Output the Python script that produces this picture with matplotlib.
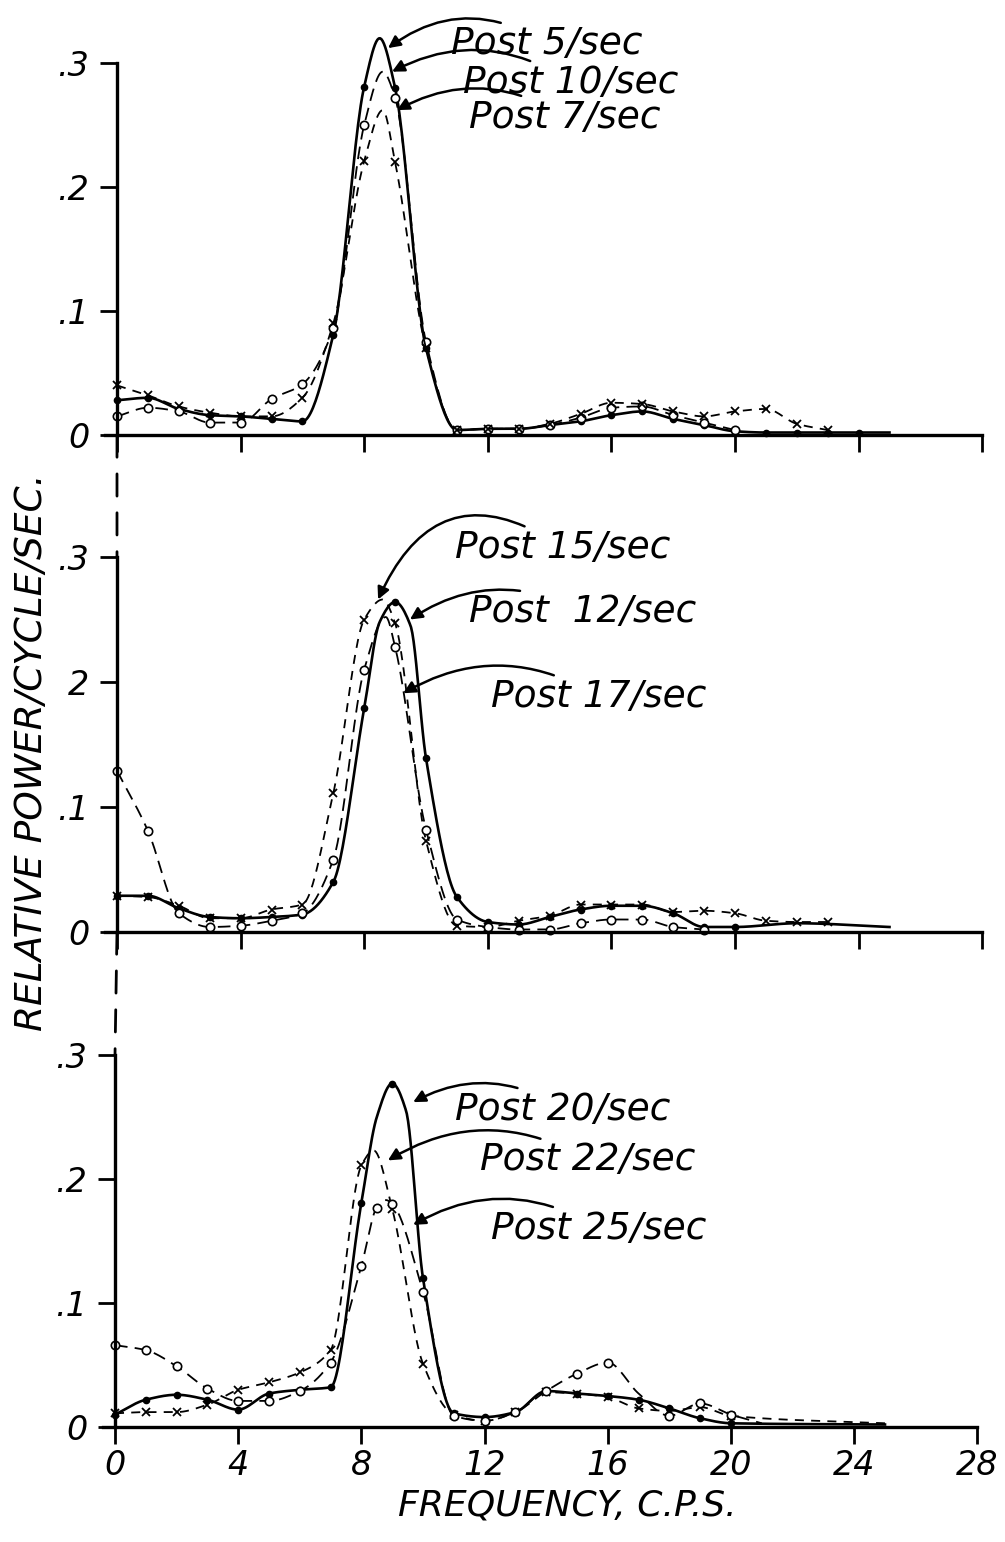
import numpy as np
import matplotlib
matplotlib.use("Agg")
import matplotlib.pyplot as plt
from matplotlib.patches import ConnectionPatch

# ---- data (relative power per cycle/sec vs frequency, c.p.s.)
# top panel
f5 = list(range(0, 25))
p5 = [0.028, 0.030, 0.021, 0.016, 0.015, 0.013, 0.011, 0.081, 0.281, 0.280, 0.070, 0.004, 0.005,
      0.005, 0.008, 0.011, 0.016, 0.019, 0.013, 0.008, 0.003, 0.002, 0.002, 0.002, 0.002]
f5_curve, p5_curve = [8.5, 25], [0.320, 0.002]

f10 = list(range(0, 21))
p10 = [0.015, 0.022, 0.019, 0.010, 0.010, 0.029, 0.041, 0.086, 0.250, 0.272, 0.075, 0.004, 0.005,
       0.005, 0.008, 0.014, 0.022, 0.023, 0.016, 0.010, 0.004]
f10_curve, p10_curve = [8.6], [0.293]

f7 = list(range(0, 24))
p7 = [0.040, 0.032, 0.023, 0.018, 0.015, 0.015, 0.030, 0.090, 0.221, 0.220, 0.070, 0.004, 0.005,
      0.005, 0.009, 0.017, 0.026, 0.025, 0.019, 0.015, 0.019, 0.021, 0.009, 0.004]
f7_curve, p7_curve = [8.6], [0.262]

# middle panel
f12 = list(range(0, 21))
p12 = [0.029, 0.029, 0.019, 0.012, 0.011, 0.012, 0.014, 0.040, 0.179, 0.264, 0.139, 0.028, 0.008,
       0.006, 0.012, 0.018, 0.021, 0.021, 0.015, 0.004, 0.004]
f12_curve, p12_curve = [8.5, 9.5, 22, 25], [0.248, 0.245, 0.007, 0.004]

f15 = list(range(0, 24))
p15 = [0.029, 0.028, 0.021, 0.011, 0.011, 0.018, 0.022, 0.111, 0.250, 0.247, 0.073, 0.005, 0.004,
       0.009, 0.013, 0.022, 0.022, 0.022, 0.016, 0.017, 0.015, 0.009, 0.008, 0.008]
f15_curve, p15_curve = [8.6], [0.266]

f17 = list(range(0, 20))
p17 = [0.129, 0.081, 0.015, 0.004, 0.005, 0.009, 0.015, 0.058, 0.210, 0.228, 0.082, 0.010, 0.004,
       0.002, 0.002, 0.007, 0.010, 0.010, 0.004, 0.002]
f17_curve, p17_curve = [8.7], [0.252]

# bottom panel
f20 = list(range(0, 21))
p20 = [0.010, 0.022, 0.026, 0.022, 0.014, 0.027, 0.030, 0.032, 0.181, 0.277, 0.120, 0.011, 0.008,
       0.012, 0.029, 0.027, 0.025, 0.022, 0.015, 0.007, 0.003]
f20_curve, p20_curve = [8.5, 9.45, 25], [0.250, 0.255, 0.002]

f22 = list(range(0, 21))
p22 = [0.011, 0.012, 0.012, 0.018, 0.030, 0.036, 0.044, 0.062, 0.211, 0.176, 0.051, 0.010, 0.005,
       0.012, 0.028, 0.027, 0.024, 0.015, 0.013, 0.016, 0.009]
f22_curve, p22_curve = [8.4, 25], [0.223, 0.003]

f25 = [0, 1, 2, 3, 4, 5, 6, 7, 8, 8.5, 9, 10, 11, 12, 13, 14, 15, 16, 18, 19, 20]
p25 = [0.066, 0.062, 0.049, 0.031, 0.021, 0.021, 0.029, 0.052, 0.130, 0.177, 0.180, 0.109, 0.009,
       0.005, 0.012, 0.029, 0.043, 0.052, 0.009, 0.019, 0.010]
f25_curve, p25_curve = [8.8, 17, 21], [0.183, 0.027, 0.003]

x_ticks = [0, 4, 8, 12, 16, 20, 24, 28]
y_ticks = [0, 0.1, 0.2, 0.3]
y_labels = ['0', '.1', '.2', '.3']
y_labels_mid = ['0', '.1', '2', '.3']


def pchip(x, y, xs):
    x = np.asarray(x, float)
    y = np.asarray(y, float)
    h = np.diff(x)
    d = np.diff(y) / h
    n = len(x)
    m = np.zeros(n)
    m[0], m[-1] = d[0], d[-1]
    for k in range(1, n - 1):
        if d[k - 1] * d[k] > 0:
            w1 = 2 * h[k] + h[k - 1]
            w2 = h[k] + 2 * h[k - 1]
            m[k] = (w1 + w2) / (w1 / d[k - 1] + w2 / d[k])
    i = np.clip(np.searchsorted(x, xs) - 1, 0, n - 2)
    t = (xs - x[i]) / h[i]
    h00 = 2 * t**3 - 3 * t**2 + 1
    h10 = t**3 - 2 * t**2 + t
    h01 = -2 * t**3 + 3 * t**2
    h11 = t**3 - t**2
    return h00 * y[i] + h10 * h[i] * m[i] + h01 * y[i + 1] + h11 * h[i] * m[i + 1]


def draw(ax, f, p, fc, pc, kind):
    pts = sorted(zip(list(f) + list(fc), list(p) + list(pc)))
    cx = [a for a, b in pts]
    cy = [b for a, b in pts]
    xs = np.linspace(cx[0], cx[-1], 600)
    ys = pchip(cx, cy, xs)
    if kind == 'dot':
        ax.plot(xs, ys, color='k', lw=1.9)
        ax.plot(f, p, 'o', color='k', ms=4.5)
    elif kind == 'circ':
        ax.plot(xs, ys, color='k', lw=1.3, ls=(0, (7, 4)))
        ax.plot(f, p, 'o', mfc='white', mec='k', ms=6, mew=1.2)
    else:
        ax.plot(xs, ys, color='k', lw=1.3, ls=(0, (5, 4)))
        ax.plot(f, p, 'x', color='k', ms=6, mew=1.3)


W, H = 1005, 1542
fig = plt.figure(figsize=(W / 100, H / 100), dpi=100)
XL, YL = (-0.8, 28.5), (-0.03, 0.34)


def place(x0, xs, y0, ys):
    left = x0 + XL[0] * xs
    right = x0 + XL[1] * xs
    bot = y0 - YL[0] * ys
    top = y0 - YL[1] * ys
    ax = fig.add_axes([left / W, (H - bot) / H, (right - left) / W, (bot - top) / H])
    ax.set_xlim(*XL)
    ax.set_ylim(*YL)
    ax.patch.set_alpha(0)
    return ax


ax1 = place(117, 30.9, 435, 1240)
ax2 = place(117, 30.9, 932, 1250)
ax3 = place(115, 30.8, 1427, 1240)

font = dict(family='DejaVu Sans', style='oblique')

for ax, ylab in [(ax1, y_labels), (ax2, y_labels_mid), (ax3, y_labels)]:
    for s in ['top', 'right']:
        ax.spines[s].set_visible(False)
    ax.spines['left'].set_position(('data', 0))
    ax.spines['bottom'].set_position(('data', 0))
    ax.spines['left'].set_bounds(0, 0.3)
    ax.spines['bottom'].set_bounds(-0.4, 28)
    ax.spines['left'].set_linewidth(2.4)
    ax.spines['bottom'].set_linewidth(2.4)
    ax.set_yticks(y_ticks)
    ax.set_yticklabels(ylab, fontsize=24, **font)
    ax.set_xticks(x_ticks)
    ax.tick_params(direction='out', length=12, width=2, pad=8)
    if ax is not ax3:
        ax.set_xticklabels([])
    else:
        ax.set_xticklabels([str(t) for t in x_ticks], fontsize=24, **font)
        ax.tick_params(axis='x', pad=4)

draw(ax1, f5, p5, f5_curve, p5_curve, 'dot')
draw(ax1, f10, p10, f10_curve, p10_curve, 'circ')
draw(ax1, f7, p7, f7_curve, p7_curve, 'x')

draw(ax2, f12, p12, f12_curve, p12_curve, 'dot')
draw(ax2, f15, p15, f15_curve, p15_curve, 'x')
draw(ax2, f17, p17, f17_curve, p17_curve, 'circ')

draw(ax3, f20, p20, f20_curve, p20_curve, 'dot')
draw(ax3, f22, p22, f22_curve, p22_curve, 'x')
draw(ax3, f25, p25, f25_curve, p25_curve, 'circ')

arrow = dict(arrowstyle='-|>', color='k', lw=1.8, mutation_scale=18, shrinkB=0)
notes = [
    (ax1, 'Post 5/sec', (8.77, 0.312), (10.8, 0.315), 0.35),
    (ax1, 'Post 10/sec', (8.9, 0.293), (11.2, 0.284), 0.3),
    (ax1, 'Post 7/sec', (9.06, 0.262), (11.4, 0.256), 0.3),
    (ax2, 'Post 15/sec', (8.45, 0.266), (10.95, 0.307), 0.6),
    (ax2, 'Post  12/sec', (9.48, 0.250), (11.4, 0.256), 0.3),
    (ax2, 'Post 17/sec', (9.26, 0.191), (12.1, 0.188), 0.3),
    (ax3, 'Post 20/sec', (9.68, 0.262), (11.05, 0.256), 0.3),
    (ax3, 'Post 22/sec', (8.86, 0.215), (11.85, 0.215), 0.3),
    (ax3, 'Post 25/sec', (9.68, 0.163), (12.2, 0.160), 0.3),
]
for ax, txt, xy, xyt, rad in notes:
    ax.annotate(txt, xy=xy, xytext=xyt, ha='left', va='center', fontsize=27, **font,
                arrowprops=dict(arrow, connectionstyle='arc3,rad=%s' % rad))

# dashed continuation of the vertical axis between panels
for a, b in [(ax1, ax2), (ax2, ax3)]:
    fig.add_artist(ConnectionPatch(xyA=(0, 0), coordsA=a.transData, xyB=(0, 0.3),
                                   coordsB=b.transData, ls=(0, (8, 6)), lw=2, color='k'))

fig.text(567 / W, 1 - 1505 / H, 'FREQUENCY, C.P.S.', ha='center', va='center', fontsize=26, **font)
fig.text(32 / W, 1 - 752 / H, 'RELATIVE POWER/CYCLE/SEC.', ha='center', va='center',
         rotation=90, fontsize=27, **font)

fig.savefig('out.png', dpi=100, facecolor='white')
